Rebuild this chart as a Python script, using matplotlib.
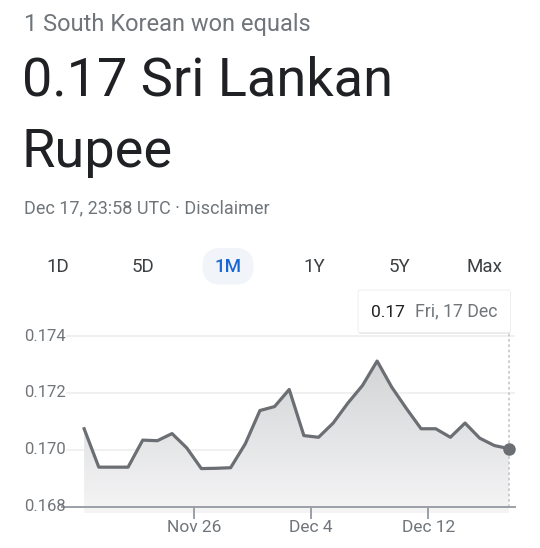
import numpy as np
import pandas as pd
import matplotlib
matplotlib.use("Agg")
import matplotlib.pyplot as plt
import matplotlib.dates as mdates
from matplotlib.patches import FancyBboxPatch
from matplotlib.colors import LinearSegmentedColormap

# ── data (KRW -> LKR, daily, 1M view) ─────────────────────────────────────────
DATES = pd.date_range("2021-11-18 12:00", "2021-12-17 12:00", freq="D")
RATES = [0.17074, 0.16939, 0.16939, 0.16939, 0.17034, 0.17032, 0.17057, 0.17007,
         0.16934, 0.16935, 0.16937, 0.17021, 0.17138, 0.17152, 0.17212, 0.17050,
         0.17044, 0.17094, 0.17164, 0.17226, 0.17312, 0.17220, 0.17145, 0.17074,
         0.17074, 0.17044, 0.17094, 0.17041, 0.17015, 0.17004]
Y_TICKS = [0.168, 0.170, 0.172, 0.174]
X_TICKS = ["2021-11-26", "2021-12-04", "2021-12-12"]
X_TICK_LABELS = ["Nov 26", "Dec 4", "Dec 12"]
TABS = ["1D", "5D", "1M", "1Y", "5Y", "Max"]

# ── palette ──────────────────────────────────────────────────────────────────
GREY_TXT = "#70757a"
DARK_TXT = "#202124"
TAB_TXT = "#3c4043"
BLUE = "#1967d2"
LINE = "#6b6e72"
GRID = "#efefef"
AXIS = "#9aa0a6"

W, H = 540, 548
plt.rcParams["font.family"] = ["Roboto", "DejaVu Sans"]
fig = plt.figure(figsize=(W / 100, H / 100), dpi=100)
fig.patch.set_facecolor("white")


def fx(x):
    return x / W


def fy(y):
    return 1 - y / H


# ── header ───────────────────────────────────────────────────────────────────
fig.text(fx(24), fy(30.5), "1 South Korean won equals", fontsize=17,
         color=GREY_TXT, va="baseline")
fig.text(fx(22), fy(96), "0.17 Sri Lankan", fontsize=39, color=DARK_TXT, va="baseline")
fig.text(fx(22), fy(166.5), "Rupee", fontsize=39, color=DARK_TXT, va="baseline")
fig.text(fx(24), fy(213), "Dec 17, 23:58 UTC · Disclaimer", fontsize=13,
         color=GREY_TXT, va="baseline")

# range tabs
tab_x = [58, 143, 228, 314, 399, 484]
fig.patches.append(FancyBboxPatch((fx(220.5), fy(266.3)), fx(15), 0.0001,
                                  boxstyle=f"round,pad={fx(18)}", transform=fig.transFigure,
                                  facecolor="#f1f4f9", edgecolor="none"))
for t, x in zip(TABS, tab_x):
    fig.text(fx(x), fy(272.5), t, fontsize=13.5, ha="center", va="baseline",
             color=BLUE if t == "1M" else TAB_TXT, weight="medium" if t == "1M" else "normal")

# ── chart ────────────────────────────────────────────────────────────────────
L, R, T, B = 66, 515, 325, 515
ax = fig.add_axes([fx(L), fy(B), fx(R - L), (B - T) / H])
ax.set_facecolor("none")
for s in ax.spines.values():
    s.set_visible(False)

nov26 = pd.Timestamp("2021-11-26")
ppd = 14.65  # px per day
x0 = mdates.date2num(nov26 + pd.Timedelta(days=(L - 194) / ppd))
x1 = mdates.date2num(nov26 + pd.Timedelta(days=(R - 194) / ppd))
ax.set_xlim(x0, x1)
ppv = 28.45 / 0.001  # px per unit
ax.set_ylim(0.168 - (B - 506.7) / ppv, 0.174 + (336 - T) / ppv)

xd = mdates.date2num(DATES)
yd = np.array(RATES)

# gradient area under the line
base = 0.16777
poly = ax.fill_between(xd, yd, base, color="none", lw=0)
cmap = LinearSegmentedColormap.from_list("g", ["#f5f5f6", "#d3d4d6"])
grad = np.linspace(0, 1, 256).reshape(-1, 1)
im = ax.imshow(grad, aspect="auto", cmap=cmap, origin="lower",
               extent=[xd[0], xd[-1], base, max(RATES)], zorder=1)
im.set_clip_path(poly.get_paths()[0], transform=ax.transData)

for v in Y_TICKS[1:]:
    ax.axhline(v, color=GRID, lw=1.3, zorder=0.5)
ax.axhline(Y_TICKS[0], xmin=-4 / (R - L), color=AXIS, lw=1.4, zorder=3, clip_on=False)

ax.plot(xd, yd, color=LINE, lw=2.3, zorder=4)
ax.plot(xd[-1], yd[-1], "o", ms=8, color=LINE, zorder=5)
ax.plot([xd[-1], xd[-1]], [0.168, 0.168 + (506.7 - 333) / ppv], color="#c4c6c9",
        lw=1.2, ls=(0, (1.6, 1.6)), zorder=2, clip_on=False)

ax.set_yticks([])
ax.set_xticks([])
for v in Y_TICKS:
    fig.text(fx(24), fy(506.7 - (v - 0.168) * ppv), f"{v:.3f}", fontsize=12,
             color=GREY_TXT, va="center")
for d, lab in zip(X_TICKS, X_TICK_LABELS):
    xv = mdates.date2num(pd.Timestamp(d))
    ax.plot([xv, xv], [0.168, 0.168 - 11 / ppv], color=AXIS, lw=1.4,
            clip_on=False, zorder=3)
    xp = L + (xv - x0) / (x1 - x0) * (R - L)
    fig.text(fx(xp), fy(532), lab, fontsize=12.5, color=GREY_TXT,
             ha="center", va="baseline")

# tooltip
fig.patches.append(FancyBboxPatch((fx(358.5), fy(334)), fx(152), 43 / H,
                                  boxstyle="round,pad=0,rounding_size=0.004",
                                  transform=fig.transFigure, facecolor="#d9d9d9",
                                  edgecolor="none", alpha=0.55, zorder=5))
fig.patches.append(FancyBboxPatch((fx(358), fy(332.5)), fx(152.5), 42.5 / H,
                                  boxstyle="round,pad=0,rounding_size=0.004",
                                  transform=fig.transFigure, facecolor="white",
                                  edgecolor="#ececec", lw=0.6, zorder=6))
fig.text(fx(370.5), fy(316.7), "0.17", fontsize=12.5, color=DARK_TXT, va="baseline", zorder=7)
fig.text(fx(497.5), fy(316.7), "Fri, 17 Dec", fontsize=12.8, color=GREY_TXT,
         ha="right", va="baseline", zorder=7)

fig.savefig("out.png", dpi=100, facecolor="white")
